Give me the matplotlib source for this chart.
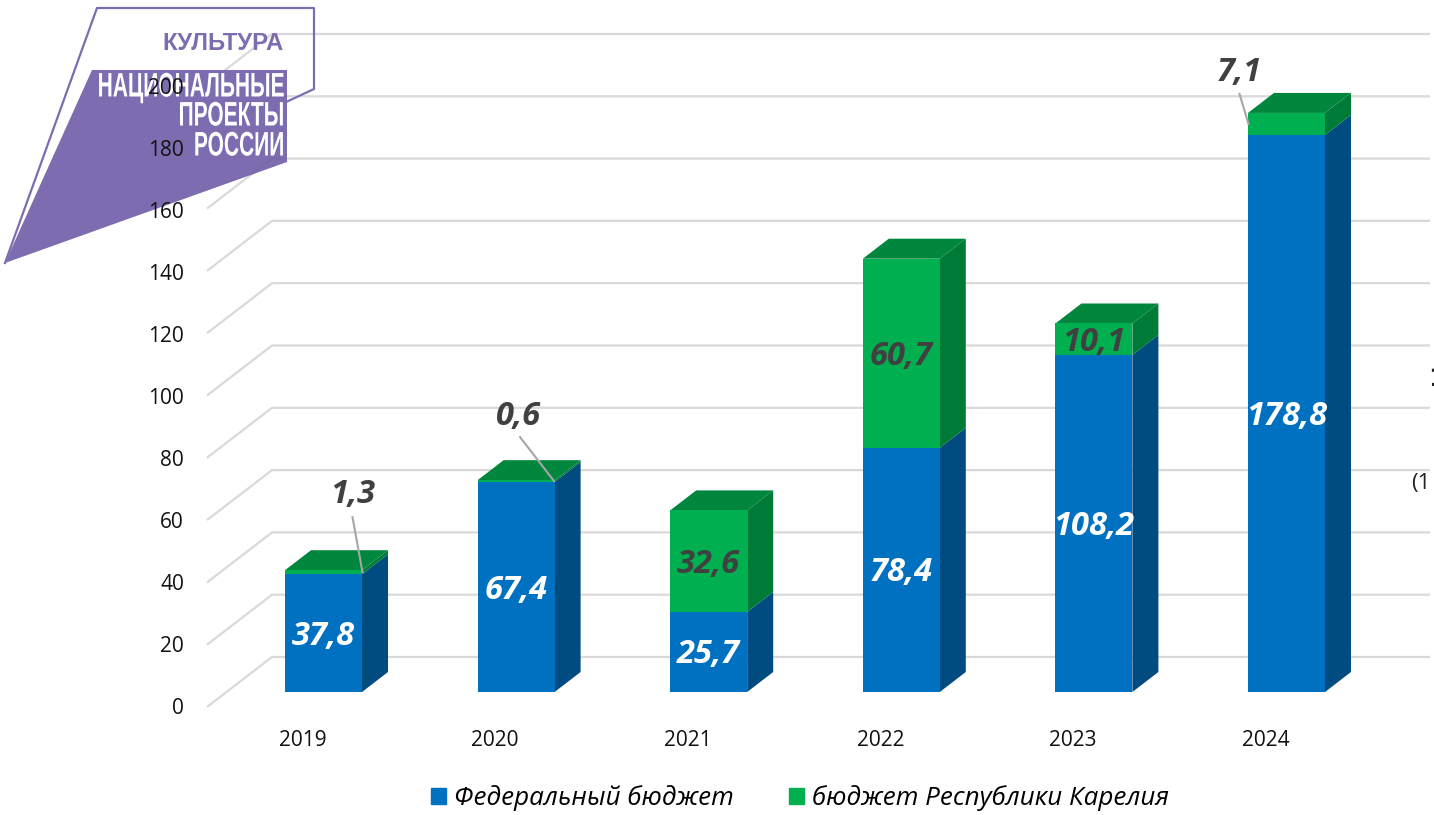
import matplotlib
matplotlib.use('Agg')
import matplotlib.pyplot as plt
from matplotlib.patches import Patch, Polygon
from matplotlib.patheffects import AbstractPathEffect
from matplotlib.transforms import Affine2D

plt.rcParams['font.family'] = ['Open Sans', 'DejaVu Sans']

# Data
years = ['2019', '2020', '2021', '2022', '2023', '2024']
federal = [37.8, 67.4, 25.7, 78.4, 108.2, 178.8]
regional = [1.3, 0.6, 32.6, 60.7, 10.1, 7.1]
y_ticks = [0, 20, 40, 60, 80, 100, 120, 140, 160, 180, 200]
federal_name = 'Федеральный бюджет'
regional_name = 'бюджет Республики Карелия'
logo_lines = ['НАЦИОНАЛЬНЫЕ', 'ПРОЕКТЫ', 'РОССИИ']

W, H = 1434, 815
BLUE, BLUE_SIDE = '#0070C0', '#004B80'
GREEN, GREEN_SIDE, GREEN_TOP = '#00B050', '#007A37', '#00863D'
GRID = '#D9D9D9'
DARK = '#404040'
PURPLE = '#7D6CAF'
PURPLE_FILL = '#6F5CA6'  # comes out as PURPLE with the alpha below
LABEL = dict(fontsize=23.5, fontweight='bold', fontstyle='italic', ha='center', va='center', zorder=5)

# scale of the chart: pixels per category and per unit of value
px_x = 192.6
px_y = 3.115
x0_px, y0_px = 323.5, 692

fig = plt.figure(figsize=(W / 100, H / 100), dpi=100)
ax = fig.add_axes([0, 0, 1, 1])
ax.set_xlim(-x0_px / px_x, (W - x0_px) / px_x)
ax.set_ylim(-(H - y0_px) / px_y, y0_px / px_y)
ax.axis('off')

# picture pixels, y from the top
px = Affine2D().scale(1, -1).translate(0, H)


def dx(p):
    return p / px_x


def dy(p):
    return p / px_y


class Condense(AbstractPathEffect):
    # squeeze text sideways around a fixed x, there is no condensed font here
    def __init__(self, x, factor):
        super().__init__()
        self.x = x
        self.factor = factor

    def draw_path(self, renderer, gc, tpath, affine, rgbFace=None):
        squeeze = Affine2D().translate(-self.x, 0).scale(self.factor, 1).translate(self.x, 0)
        renderer.draw_path(gc, tpath, affine + squeeze, rgbFace)


# Logo
ax.add_patch(Polygon([(92, 70), (287, 70), (287, 162), (5, 263)], closed=True, transform=px,
                     facecolor=PURPLE_FILL, edgecolor='none', joinstyle='round', alpha=0.9, zorder=1.5))
ax.plot([5, 97, 314, 314, 284], [263, 8, 8, 89, 103], color=PURPLE, lw=1.6, transform=px, zorder=1.5)
ax.text(284, 44, 'КУЛЬТУРА', ha='right', va='center', color=PURPLE, fontsize=17.2, fontweight='bold',
        family=['Liberation Sans', 'DejaVu Sans'], transform=px, zorder=1.6)
for line, y in zip(logo_lines, [88, 117, 147]):
    ax.text(284, y, line, ha='right', va='center', color='white', fontsize=24.5, fontweight='bold',
            family=['Liberation Sans', 'DejaVu Sans'], transform=px, zorder=1.6,
            path_effects=[Condense(284, 0.616)])

# Walls and gridlines
wall_dx, wall_dy = 65, 50
wall_x = dx(207 - x0_px)
floor_y = -dy(15)
for i, t in enumerate(y_ticks):
    ax.plot([wall_x, wall_x + dx(wall_dx), (1430 - x0_px) / px_x],
            [t + floor_y, t + floor_y + dy(wall_dy), t + floor_y + dy(wall_dy)],
            color=GRID, lw=1.6, zorder=1, solid_capstyle='butt')
    # the tick labels run a little tighter than the gridlines
    ax.text(184, 708 - 61.9 * i, str(t), ha='right', va='center', fontsize=15, color='#111111',
            transform=px, zorder=6)

# Bars
bar_w = 77 / px_x
depth_x, depth_y = dx(26), dy(20)


def side(x, y1, y2, color):
    right = x + bar_w / 2
    ax.add_patch(Polygon([(right, y1), (right + depth_x, y1 + depth_y),
                          (right + depth_x, y2 + depth_y), (right, y2)],
                         closed=True, facecolor=color, edgecolor='none', zorder=2))


label_shift = dy(-3)
for i, (f, r) in enumerate(zip(federal, regional)):
    total = f + r
    ax.bar(i, f, width=bar_w, color=BLUE, zorder=3)
    ax.bar(i, r, width=bar_w, bottom=f, color=GREEN, zorder=3)
    side(i, 0, f, BLUE_SIDE)
    side(i, f, total, GREEN_SIDE)
    left = i - bar_w / 2
    ax.add_patch(Polygon([(left, total), (left + bar_w, total),
                          (left + bar_w + depth_x, total + depth_y),
                          (left + depth_x, total + depth_y)],
                         closed=True, facecolor=GREEN_TOP, edgecolor='none', zorder=2))
    ax.text(i, f / 2 + label_shift, str(f).replace('.', ','), color='white', **LABEL)
    ax.text(i - dx(21), floor_y - dy(33), years[i], ha='center', va='center',
            fontsize=15, color='#111111', zorder=6)

# Labels of the green segments: inside for the big ones, with a leader line for the small ones
# offsets in pixels from the bar centre and top: text x, y, line start x, y, line end x, y
leaders = {0: (29, 79, 29, 53, 39, -2),
           1: (2, 67, 4, 43, 38, -1),
           5: (-47, 43, -47, 19, -38, -11)}
for i, (f, r) in enumerate(zip(federal, regional)):
    text = str(r).replace('.', ',')
    top = f + r
    if i in leaders:
        tx, ty, lx, ly, ex, ey = leaders[i]
        ax.text(i + dx(tx), top + dy(ty) + label_shift, text, color=DARK, **LABEL)
        ax.plot([i + dx(lx), i + dx(ex)], [top + dy(ly), top + dy(ey)], color='#A6A6A6', lw=1.5, zorder=4)
    else:
        ax.text(i, f + r / 2 + label_shift, text, color=DARK, **LABEL)

# Text cut off by the right edge
ax.text(1428, 379, '1', ha='left', va='center', fontsize=18, fontweight='bold', color='#222222',
        family='DejaVu Sans', transform=px, zorder=6)
ax.text(1411, 483, '(1', ha='left', va='center', fontsize=16, color='#222222', transform=px, zorder=6)

# Legend
ax.legend(handles=[Patch(color=BLUE, label=federal_name), Patch(color=GREEN, label=regional_name)],
          loc='center', bbox_to_anchor=(800 / W, 1 - 798 / H), bbox_transform=fig.transFigure,
          ncols=2, frameon=False, handlelength=0.58, handleheight=0.58, columnspacing=2.1,
          handletextpad=0.31, prop={'style': 'italic', 'size': 18.7})

plt.savefig('out.png', dpi=100)
